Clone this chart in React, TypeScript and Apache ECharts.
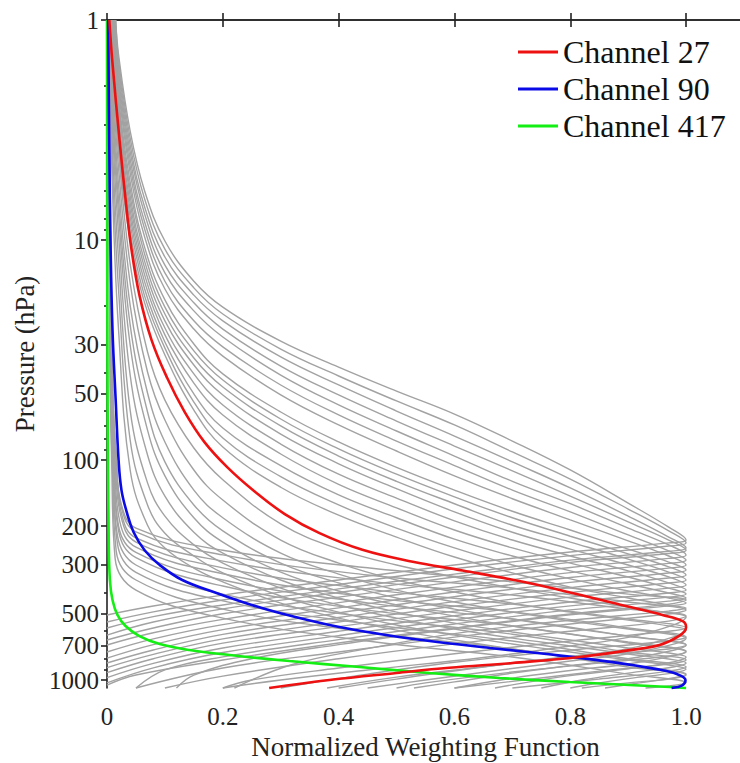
import React, { useEffect, useRef } from "react";
import * as echarts from "echarts";

// ---- axis values ----
const X_MIN = 0;
const X_MAX = 1.1;
const X_INTERVAL = 0.2;
const P_TOP = 1;
const P_BOTTOM = 1087;
const P_LABELS = [1, 10, 30, 50, 100, 200, 300, 500, 700, 1000];
const P_MINOR = [2, 3, 4, 5, 6, 7, 8, 9, 20, 40, 60, 70, 80, 90, 400, 600, 800, 900];
const X_TITLE = "Normalized Weighting Function";
const Y_TITLE = "Pressure (hPa)";

const LEGEND_NAMES = ["Channel 27", "Channel 90", "Channel 417"];

// ---- highlighted channels: [weight, pressure hPa] ----
const channel27 = [
  [0.004,1],[0.009,1.52],[0.022,3.6],[0.034,7.3],[0.042,10.9],[0.056,17.8],[0.077,28.5],[0.104,42.4],
  [0.134,60.4],[0.168,82.7],[0.208,108],[0.255,139],[0.307,176],[0.367,215],[0.441,256],[0.528,290],
  [0.614,318],[0.712,355],[0.807,404],[0.894,460],[0.959,506],[0.994,540],[1.0,575],[0.988,630],
  [0.954,693],[0.903,731],[0.816,786],[0.7,837],[0.591,880],[0.5,929],[0.384,1000],[0.28,1087],
];
const channel90 = [
  [0.002,1],[0.004,3.9],[0.006,10],[0.0095,25.7],[0.015,53.4],[0.02,100],[0.025,137],[0.034,172],
  [0.046,213],[0.065,257],[0.091,300],[0.13,351],[0.189,402],[0.25,456],[0.298,496],[0.384,562],
  [0.471,618],[0.557,665],[0.661,715],[0.759,762],[0.873,829],[0.949,892],[0.984,939],[0.999,1000],
  [0.994,1054],[0.975,1087],
];
const channel417 = [
  [0,1],[0.001,53.4],[0.003,231],[0.005,351],[0.0095,433],[0.018,506],[0.032,568],[0.056,631],
  [0.091,686],[0.142,731],[0.212,770],[0.315,820],[0.436,873],[0.557,929],[0.678,979],[0.799,1021],
  [0.902,1054],[0.972,1076],[1.0,1087],
];

// ---- grey channels peaking high (upper troposphere) ----
const greyUpperPeaked = [
  [[0.015,1],[0.02,1.44],[0.04,3.2],[0.065,5.99],[0.1,10.1],[0.15,15.4],[0.2,20.2],[0.3,28.8],[0.4,37.8],[0.5,48.6],[0.6,61.8],[0.7,82],[0.8,111],[0.9,157],[0.97,202],[1,231],[0.97,238],[0.8,262],[0.6,300],[0.4,351],[0.2,411],[0.08,461],[0,506]],
  [[0.015,1],[0.02,1.52],[0.04,3.44],[0.065,6.51],[0.1,11],[0.15,16.5],[0.2,21.7],[0.3,31.3],[0.4,41.5],[0.5,53.9],[0.6,69.3],[0.7,91.9],[0.8,122],[0.9,167],[0.97,210],[1,238],[0.97,246],[0.8,272],[0.6,312],[0.4,368],[0.2,433],[0.08,490],[0,545]],
  [[0.014,1],[0.02,1.62],[0.04,3.7],[0.065,7.08],[0.1,11.95],[0.15,17.8],[0.2,23.3],[0.3,34],[0.4,45.6],[0.5,59.9],[0.6,77.8],[0.7,102],[0.8,134],[0.9,180],[0.97,224],[1,251],[0.97,260],[0.8,285],[0.6,330],[0.4,385],[0.2,456],[0.08,515],[0,580]],
  [[0.013,1],[0.02,1.72],[0.04,3.98],[0.065,7.62],[0.1,13],[0.15,19.3],[0.2,25.4],[0.3,37.4],[0.4,50.6],[0.5,66.5],[0.6,86.4],[0.7,112],[0.8,146],[0.9,191],[0.97,231],[1,257],[0.97,266],[0.8,292],[0.6,340],[0.4,400],[0.2,475],[0.08,545],[0,625]],
  [[0.012,1],[0.02,1.84],[0.04,4.28],[0.065,8.28],[0.1,14.1],[0.15,21],[0.2,27.6],[0.3,41.1],[0.4,56.2],[0.5,73.8],[0.6,95.9],[0.7,125],[0.8,158],[0.9,204],[0.97,243],[1,270],[0.97,280],[0.8,308],[0.6,358],[0.4,420],[0.2,500],[0.08,580],[0,658]],
  [[0.012,1],[0.02,1.95],[0.04,4.61],[0.065,8.91],[0.1,15.4],[0.15,23.3],[0.2,30.6],[0.3,45.6],[0.4,62.4],[0.5,82],[0.6,106],[0.7,137],[0.8,172],[0.9,219],[0.97,259],[1,285],[0.97,295],[0.8,325],[0.6,378],[0.4,445],[0.2,530],[0.08,610],[0,693]],
  [[0.011,1],[0.02,2.08],[0.04,4.96],[0.065,9.69],[0.1,16.7],[0.15,25.4],[0.2,33.7],[0.3,50.6],[0.4,69.3],[0.5,91],[0.6,118],[0.7,150],[0.8,187],[0.9,233],[0.97,273],[1,300],[0.97,310],[0.8,342],[0.6,398],[0.4,470],[0.2,560],[0.08,650],[0,746]],
  [[0.011,1],[0.02,2.26],[0.04,5.45],[0.065,10.8],[0.1,18.7],[0.15,29.7],[0.2,40.6],[0.3,60.5],[0.4,82.8],[0.5,108],[0.6,137],[0.7,171],[0.8,208],[0.9,254],[0.97,291],[1,316],[0.97,326],[0.8,360],[0.6,418],[0.4,495],[0.2,590],[0.08,690],[0,795]],
  [[0.01,1],[0.02,2.41],[0.04,5.87],[0.065,11.6],[0.1,20.2],[0.15,31.9],[0.2,43.3],[0.3,65.1],[0.4,89.1],[0.5,116],[0.6,147],[0.7,183],[0.8,222],[0.9,267],[0.97,306],[1,333],[0.97,344],[0.8,380],[0.6,440],[0.4,520],[0.2,620],[0.08,730],[0,837]],
  [[0.01,1],[0.02,2.57],[0.04,6.31],[0.065,12.5],[0.1,21.7],[0.15,34.4],[0.2,46.6],[0.3,70],[0.4,95.9],[0.5,125],[0.6,158],[0.7,198],[0.8,236],[0.9,282],[0.97,323],[1,351],[0.97,362],[0.8,400],[0.6,462],[0.4,545],[0.2,650],[0.08,765],[0,878]],
  [[0.009,1],[0.02,2.73],[0.04,6.79],[0.065,13.4],[0.1,23.3],[0.15,37],[0.2,50.6],[0.3,76.2],[0.4,104],[0.5,135],[0.6,172],[0.7,213],[0.8,254],[0.9,300],[0.97,340],[1,370],[0.97,382],[0.8,420],[0.6,486],[0.4,572],[0.2,680],[0.08,800],[0,925]],
  [[0.009,1],[0.02,2.91],[0.04,7.31],[0.065,14.4],[0.1,25.1],[0.15,40.6],[0.2,56.2],[0.3,84.6],[0.4,116],[0.5,149],[0.6,189],[0.7,231],[0.8,273],[0.9,319],[0.97,362],[1,390],[0.97,402],[0.8,442],[0.6,510],[0.4,600],[0.2,715],[0.08,840],[0,975]],
  [[0.008,1],[0.02,3.1],[0.04,7.86],[0.065,15.5],[0.1,27],[0.15,44.7],[0.2,62.4],[0.3,93.9],[0.4,129],[0.5,165],[0.6,208],[0.7,251],[0.8,294],[0.9,340],[0.97,382],[1,406],[0.97,420],[0.8,460],[0.6,532],[0.4,628],[0.2,750],[0.08,880],[0,1030]],
  [[0.008,1],[0.02,3.33],[0.04,8.46],[0.065,16.7],[0.1,29.1],[0.15,50.1],[0.2,71.5],[0.3,106],[0.4,144],[0.5,183],[0.6,229],[0.7,273],[0.8,319],[0.9,366],[0.97,402],[1,424],[0.97,438],[0.8,480],[0.6,556],[0.4,655],[0.2,785],[0.1,900],[0.05,1087]],
  [[0.007,1],[0.02,3.59],[0.04,9.2],[0.065,18],[0.1,31],[0.15,54.5],[0.2,79.4],[0.3,119],[0.4,160],[0.5,204],[0.6,251],[0.7,300],[0.8,347],[0.9,394],[0.97,424],[1,447],[0.97,460],[0.8,505],[0.6,585],[0.4,690],[0.25,800],[0.15,950],[0.12,1087]],
  [[0.007,1],[0.02,3.9],[0.04,10],[0.065,19.3],[0.1,33.3],[0.15,59.3],[0.2,87.3],[0.3,133],[0.4,178],[0.5,224],[0.6,276],[0.7,326],[0.8,378],[0.9,424],[0.97,456],[1,471],[0.97,486],[0.8,535],[0.6,615],[0.45,720],[0.32,850],[0.22,1087]],
];

// ---- grey channels peaking in the mid troposphere ----
const greyMidPeaked = [
  [[0.006,1],[0.01,1.72],[0.02,3.98],[0.04,12.85],[0.07,32.3],[0.1,53.4],[0.15,88.2],[0.2,123],[0.3,195],[0.4,254],[0.5,300],[0.6,340],[0.7,382],[0.8,424],[0.9,466],[0.97,496],[1,517],[0.98,560],[0.9,640],[0.8,700],[0.65,790],[0.45,900],[0.3,1000],[0.2,1087]],
  [[0.006,1],[0.01,1.95],[0.02,4.71],[0.04,15.7],[0.07,39.8],[0.1,65.8],[0.15,111],[0.2,152],[0.3,231],[0.4,294],[0.5,351],[0.6,398],[0.7,447],[0.8,491],[0.9,534],[0.97,568],[1,593],[0.98,635],[0.9,720],[0.8,780],[0.65,870],[0.5,970],[0.38,1087]],
  [[0.005,1],[0.01,2.22],[0.02,5.62],[0.04,19.8],[0.07,49.6],[0.1,82.8],[0.15,137],[0.2,183],[0.3,265],[0.4,330],[0.5,390],[0.6,442],[0.7,491],[0.8,539],[0.9,586],[0.97,618],[1,645],[0.98,685],[0.9,760],[0.8,820],[0.68,900],[0.55,1000],[0.45,1087]],
  [[0.005,1],[0.01,2.51],[0.02,6.58],[0.04,24.3],[0.07,60.5],[0.1,102],[0.15,160],[0.2,210],[0.3,294],[0.4,362],[0.5,424],[0.6,476],[0.7,528],[0.8,580],[0.9,631],[0.97,665],[1,693],[0.98,730],[0.9,800],[0.8,860],[0.7,930],[0.6,1020],[0.53,1087]],
  [[0.005,1],[0.01,2.85],[0.02,7.69],[0.04,30],[0.07,73.1],[0.1,118],[0.15,183],[0.2,236],[0.3,323],[0.4,394],[0.5,456],[0.6,512],[0.7,568],[0.8,618],[0.9,672],[0.97,708],[1,738],[0.98,775],[0.9,845],[0.8,905],[0.7,980],[0.6,1087]],
  [[0.004,1],[0.01,3.33],[0.02,9.49],[0.04,41.1],[0.07,94.9],[0.1,146],[0.15,213],[0.2,265],[0.3,351],[0.4,424],[0.5,491],[0.6,551],[0.7,605],[0.8,658],[0.9,715],[0.97,754],[1,786],[0.98,825],[0.9,890],[0.8,955],[0.72,1030],[0.67,1087]],
  [[0.004,1],[0.01,4.11],[0.02,12.3],[0.04,59.3],[0.07,127],[0.1,180],[0.15,243],[0.2,294],[0.3,382],[0.4,456],[0.5,523],[0.6,586],[0.7,645],[0.8,700],[0.9,762],[0.97,803],[1,837],[0.98,870],[0.9,930],[0.82,1000],[0.75,1087]],
  [[0.004,1],[0.01,5.06],[0.02,16.9],[0.04,81.1],[0.07,160],[0.1,215],[0.15,273],[0.2,326],[0.3,415],[0.4,491],[0.5,562],[0.6,625],[0.7,686],[0.8,746],[0.9,811],[0.97,855],[1,892],[0.98,925],[0.9,985],[0.83,1050],[0.8,1087]],
  [[0.003,1],[0.01,6.58],[0.02,25.7],[0.04,111],[0.07,198],[0.1,251],[0.15,310],[0.2,358],[0.3,447],[0.4,523],[0.5,593],[0.6,658],[0.7,723],[0.8,786],[0.9,855],[0.97,901],[1,939],[0.98,975],[0.92,1030],[0.86,1087]],
];

// ---- grey channels near zero aloft that fan out low down ----
const greyLowPeaked = [
  [[0.003,1],[0.006,10],[0.01,50],[0.016,100],[0.025,160],[0.05,204],[0.2,257],[0.45,309],[0.7,358],[0.9,407],[1,433],[0.97,452],[0.8,501],[0.6,580],[0.4,679],[0.2,811],[0.05,949],[0,1054]],
  [[0.003,1],[0.006,10],[0.01,50],[0.016,100],[0.025,165],[0.05,212],[0.2,270],[0.45,333],[0.7,382],[0.9,442],[1,481],[0.97,501],[0.8,556],[0.6,638],[0.4,746],[0.2,882],[0.05,1087]],
  [[0.003,1],[0.006,10],[0.01,50],[0.016,100],[0.025,175],[0.05,226],[0.2,288],[0.45,355],[0.7,411],[0.9,476],[1,512],[0.97,540],[0.8,600],[0.6,685],[0.4,800],[0.2,960],[0.1,1087]],
  [[0.003,1],[0.005,10],[0.009,50],[0.014,100],[0.024,180],[0.05,236],[0.2,309],[0.45,386],[0.7,452],[0.9,528],[1,580],[0.97,600],[0.8,665],[0.6,760],[0.4,882],[0.25,1000],[0.2,1087]],
  [[0.003,1],[0.005,10],[0.008,50],[0.013,100],[0.022,190],[0.05,249],[0.2,329],[0.45,420],[0.7,490],[0.9,580],[1,638],[0.97,665],[0.8,731],[0.6,830],[0.45,940],[0.3,1087]],
  [[0.003,1],[0.005,10],[0.008,50],[0.012,100],[0.02,200],[0.05,263],[0.2,351],[0.45,446],[0.7,528],[0.9,632],[1,693],[0.97,723],[0.8,786],[0.65,873],[0.5,990],[0.4,1087]],
  [[0.003,1],[0.005,10],[0.007,50],[0.011,100],[0.02,210],[0.05,278],[0.2,374],[0.45,481],[0.7,568],[0.9,679],[1,746],[0.97,778],[0.85,837],[0.7,920],[0.55,1030],[0.5,1087]],
  [[0.003,1],[0.005,10],[0.007,50],[0.01,100],[0.018,220],[0.05,300],[0.2,407],[0.45,518],[0.7,619],[0.9,746],[1,811],[0.97,846],[0.85,911],[0.72,1000],[0.6,1087]],
  [[0.003,1],[0.004,10],[0.006,50],[0.01,100],[0.018,240],[0.05,324],[0.2,437],[0.45,556],[0.7,665],[0.9,800],[1,873],[0.97,911],[0.85,990],[0.7,1087]],
  [[0.002,1],[0.004,10],[0.006,50],[0.009,100],[0.016,260],[0.05,351],[0.2,476],[0.45,606],[0.7,723],[0.9,873],[1,949],[0.97,990],[0.9,1030],[0.82,1087]],
  [[0.002,1],[0.004,10],[0.006,50],[0.008,100],[0.014,280],[0.05,390],[0.2,523],[0.45,665],[0.7,786],[0.9,940],[1,1030],[0.97,1065],[0.93,1087]],
];

const FONT = "Liberation Serif";
const INK = "#222222";
const GREY = "#a2a2a2";

const toXY = (pts: number[][]) => pts.map(([x, p]) => [x, Math.log10(p)]);

export default function App() {
  const ref = useRef<HTMLDivElement>(null);

  useEffect(() => {
    if (!ref.current) return;
    const chart = echarts.init(ref.current, undefined, { renderer: "svg" });

    const greyAll = [...greyUpperPeaked, ...greyMidPeaked, ...greyLowPeaked];
    const greySeries = greyAll.map((c) => ({
      type: "line",
      data: toXY(c),
      showSymbol: false,
      symbol: "none",
      smooth: 0.4,
      clip: false,
      silent: true,
      z: 2,
      lineStyle: { color: GREY, width: 1.4 },
    }));

    const colored = [
      { name: LEGEND_NAMES[2], data: channel417, color: "#14ee14" },
      { name: LEGEND_NAMES[1], data: channel90, color: "#0a0ae6" },
      { name: LEGEND_NAMES[0], data: channel27, color: "#ee1111" },
    ].map((s) => ({
      type: "line",
      name: s.name,
      data: toXY(s.data),
      showSymbol: false,
      symbol: "none",
      smooth: 0.4,
      clip: false,
      z: 3,
      color: s.color,
      itemStyle: { color: s.color },
      lineStyle: { color: s.color, width: 2.6 },
    }));

    const axisLine = { show: true, lineStyle: { color: INK, width: 1.6 } };
    const tick = (length: number, customValues?: number[]) => ({
      show: true,
      inside: false,
      length,
      ...(customValues ? { customValues } : {}),
      lineStyle: { color: INK, width: 1.6 },
    });
    const tickText = { fontFamily: FONT, fontSize: 25, color: INK };
    const titleText = { fontFamily: FONT, fontSize: 27, color: INK };
    const yMin = Math.log10(P_TOP);
    const yMax = Math.log10(P_BOTTOM);
    const labelValues = P_LABELS.map((p) => Math.log10(p));

    chart.setOption({
      animation: false,
      backgroundColor: "#ffffff",
      textStyle: { fontFamily: FONT },
      grid: {
        left: 107,
        right: -4,
        top: 20,
        bottom: 75,
        containLabel: false,
        outerBoundsMode: "none",
      },
      legend: {
        data: LEGEND_NAMES,
        orient: "vertical",
        left: 518,
        top: 36,
        padding: 0,
        itemGap: 5,
        itemWidth: 40,
        itemHeight: 3,
        icon: "rect",
        textStyle: { fontFamily: FONT, fontSize: 32, color: "#111111" },
      },
      xAxis: [
        {
          type: "value",
          min: X_MIN,
          max: X_MAX,
          interval: X_INTERVAL,
          position: "bottom",
          axisLine,
          axisTick: tick(7),
          splitLine: { show: false },
          axisLabel: {
            ...tickText,
            margin: 16,
            formatter: (v: number) => (v > 1.05 ? "" : v === 0 ? "0" : v.toFixed(1)),
          },
          name: X_TITLE,
          nameLocation: "middle",
          nameGap: 45,
          nameTextStyle: titleText,
        },
        {
          type: "value",
          min: X_MIN,
          max: X_MAX,
          interval: X_INTERVAL,
          position: "top",
          axisLine,
          axisTick: tick(7),
          splitLine: { show: false },
          axisLabel: { show: false },
        },
      ],
      yAxis: [
        {
          type: "value",
          min: yMin,
          max: yMax,
          inverse: true,
          position: "left",
          axisLine,
          splitLine: { show: false },
          axisTick: tick(6, labelValues),
          axisLabel: {
            ...tickText,
            margin: 8,
            customValues: labelValues,
            formatter: (v: number) => String(Math.round(Math.pow(10, v))),
          },
          name: Y_TITLE,
          nameLocation: "middle",
          nameRotate: 90,
          nameGap: 65,
          nameTextStyle: titleText,
        },
        {
          type: "value",
          min: yMin,
          max: yMax,
          inverse: true,
          position: "left",
          axisLine: { show: false },
          splitLine: { show: false },
          axisLabel: { show: false },
          axisTick: tick(3, P_MINOR.map((p) => Math.log10(p))),
        },
      ],
      series: [...greySeries, ...colored],
    });

    return () => chart.dispose();
  }, []);

  return (
    <div
      ref={ref}
      style={{ position: "absolute", left: 0, top: 0, width: 740, height: 763, background: "#fff" }}
    />
  );
}
